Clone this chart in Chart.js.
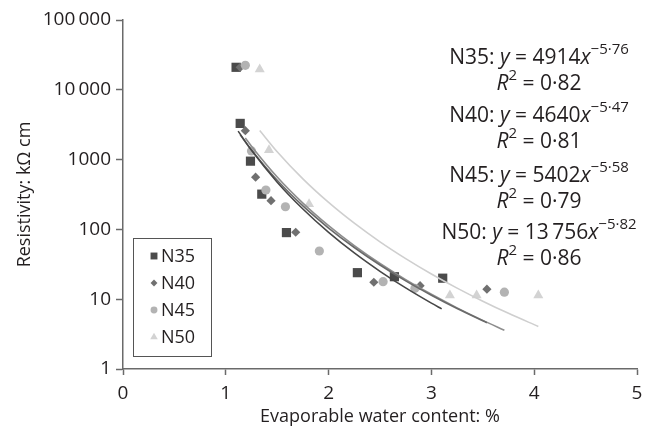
<!DOCTYPE html>
<html>
<head>
<meta charset="utf-8">
<script src="https://cdn.jsdelivr.net/npm/chart.js@4/dist/chart.umd.min.js"></script>
<style>
  body { margin: 0; background: #fff; }
  #wrap { width: 656px; height: 431px; }
</style>
</head>
<body>
<div id="wrap"><canvas id="chart" width="656" height="431"></canvas></div>
<script>
// measured points (evaporable water %, resistivity kOhm cm)
const n35X = [1.10, 1.14, 1.24, 1.35, 1.59, 2.28, 2.64, 3.11];
const n35Y = [21000, 3300, 950, 320, 90, 24, 21, 20];
const n40X = [1.14, 1.19, 1.29, 1.44, 1.68, 2.44, 2.89, 3.54];
const n40Y = [21000, 2600, 560, 258, 91, 17.5, 15.6, 13.9];
const n45X = [1.19, 1.25, 1.39, 1.58, 1.91, 2.53, 2.84, 3.71];
const n45Y = [22400, 1330, 367, 211, 49, 17.8, 14.3, 12.6];
const n50X = [1.33, 1.42, 1.81, 3.18, 3.44, 4.04];
const n50Y = [19700, 1370, 231, 11.4, 11.4, 11.4];

// trend curves
const n35FitX = [1.12, 1.25, 1.5, 1.75, 2, 2.25, 2.5, 2.75, 3, 3.1];
const n35FitY = [2557, 1358, 475, 196, 90.7, 46.0, 25.1, 14.5, 8.77, 7.26];
const n40FitX = [1.14, 1.25, 1.5, 1.75, 2, 2.25, 2.5, 2.75, 3, 3.25, 3.54];
const n40FitY = [2265, 1371, 505, 217, 104.7, 55.0, 30.9, 18.3, 11.4, 7.35, 4.61];
const n45FitX = [1.19, 1.25, 1.5, 1.75, 2, 2.25, 2.5, 2.75, 3, 3.25, 3.5, 3.71];
const n45FitY = [2045, 1555, 562, 238, 113, 58.5, 32.5, 19.1, 11.75, 7.52, 4.97, 3.59];
const n50FitX = [1.33, 1.5, 1.75, 2, 2.25, 2.5, 2.75, 3, 3.25, 3.5, 3.75, 4.04];
const n50FitY = [2614, 1298, 530, 243.6, 122.7, 66.4, 38.2, 23.0, 14.43, 9.37, 6.27, 4.07];

const seriesNames = ['N35', 'N40', 'N45', 'N50'];
const xTicks = [0, 1, 2, 3, 4, 5];
const yTicks = [1, 10, 100, 1000, 10000, 100000];
const yTickLabels = ['1', '10', '100', '1000', '10\u2009000', '100\u2009000'];

// equations shown on the right
const eqCoef = ['4914', '4640', '5402', '13\u2009756'];
const eqExp = ['\u22125\u00b776', '\u22125\u00b747', '\u22125\u00b758', '\u22125\u00b782'];
const eqR2 = ['0\u00b782', '0\u00b781', '0\u00b779', '0\u00b786'];

const FONT = "'Open Sans', 'Noto Sans', sans-serif";
const TXT = '#231f20';
const AXIS = '#6a6a6a';

function pts(xs, ys) { return xs.map((x, i) => ({ x: x, y: ys[i] })); }

const markStyle = [
  { shape: 'rect', color: '#4b4b4b', r: 6.5 },
  { shape: 'rectRot', color: '#707070', r: 4.6 },
  { shape: 'circle', color: '#b3b3b3', r: 4.6 },
  { shape: 'triangle', color: '#d3d3d3', r: 5.8 }
];
const lineColors = ['#474747', '#6a6a6a', '#8e8e8e', '#cfcfcf'];

const scatterData = [pts(n35X, n35Y), pts(n40X, n40Y), pts(n45X, n45Y), pts(n50X, n50Y)];
const fitData = [pts(n35FitX, n35FitY), pts(n40FitX, n40FitY), pts(n45FitX, n45FitY), pts(n50FitX, n50FitY)];

const datasets = [];
fitData.forEach((d, i) => {
  datasets.push({
    label: seriesNames[i] + ' fit', data: d, showLine: true, fill: false,
    borderColor: lineColors[i], borderWidth: 1.6, pointRadius: 0,
    cubicInterpolationMode: 'monotone', order: 2 + i
  });
});
scatterData.forEach((d, i) => {
  const m = markStyle[i];
  datasets.push({
    label: seriesNames[i], data: d, showLine: false,
    pointStyle: m.shape, pointRadius: m.r, borderWidth: 0,
    backgroundColor: m.color, borderColor: m.color, order: 10 - i, isMark: true
  });
});

// draws a line made of plain / italic / superscript pieces, centred on cx
function richLine(ctx, parts, cx, cy) {
  const fontOf = p => (p[1] === 'i' ? 'italic ' : '') + (p[1] === 's' ? '15px ' : '21px ') + FONT;
  let w = 0;
  parts.forEach(p => { ctx.font = fontOf(p); w += ctx.measureText(p[0]).width; });
  let x = cx - w / 2;
  ctx.textBaseline = 'middle';
  ctx.textAlign = 'left';
  parts.forEach(p => {
    ctx.font = fontOf(p);
    ctx.fillText(p[0], x, p[1] === 's' ? cy - 8 : cy);
    x += ctx.measureText(p[0]).width;
  });
}

const extras = {
  id: 'extras',
  afterDatasetsDraw(chart) {
    const ctx = chart.ctx;
    ctx.save();
    // legend box
    ctx.strokeStyle = '#555';
    ctx.lineWidth = 1;
    ctx.strokeRect(133.5, 238.5, 78, 118);
    const marks = chart.data.datasets.filter(d => d.isMark);
    marks.forEach((d, i) => {
      const y = 256 + i * 27;
      ctx.fillStyle = d.backgroundColor;
      Chart.helpers.drawPoint(ctx, { pointStyle: d.pointStyle, radius: d.pointRadius * 0.75, borderWidth: 0 }, 154, y);
      ctx.fillStyle = TXT;
      ctx.font = '18px ' + FONT;
      ctx.textAlign = 'left';
      ctx.textBaseline = 'middle';
      ctx.fillText(d.label, 161, y + 1);
    });
    // equations
    ctx.fillStyle = TXT;
    const rowY = [[58, 84], [116, 142], [176, 202], [233, 259]];
    seriesNames.forEach((n, i) => {
      richLine(ctx, [[n + ': ', 'n'], ['y', 'i'], [' = ' + eqCoef[i], 'n'], ['x', 'i'], [eqExp[i], 's']], 539, rowY[i][0]);
      richLine(ctx, [['R', 'i'], ['2', 's'], [' = ' + eqR2[i], 'n']], 539, rowY[i][1]);
    });
    ctx.restore();
  }
};

new Chart(document.getElementById('chart'), {
  type: 'scatter',
  data: { datasets: datasets },
  plugins: [extras],
  options: {
    responsive: false,
    devicePixelRatio: 1,
    animation: false,
    layout: { padding: { top: 20, right: 19, left: 0, bottom: 0 } },
    plugins: { legend: { display: false }, tooltip: { enabled: false } },
    scales: {
      x: {
        type: 'linear', min: 0, max: 5,
        afterFit: s => { s.height = 62; },
        afterBuildTicks: s => { s.ticks = xTicks.map(v => ({ value: v })); },
        border: { color: AXIS, width: 1.5 },
        grid: { drawOnChartArea: false, tickLength: 6, color: AXIS, tickWidth: 1.5 },
        ticks: { color: TXT, padding: 7, font: { family: FONT, size: 19 } },
        title: { display: true, text: 'Evaporable water content: %', color: TXT,
                 font: { family: FONT, size: 18 }, padding: { top: 0, bottom: 3 } }
      },
      y: {
        type: 'logarithmic', min: 1, max: 100000,
        afterFit: s => { s.width = 123; },
        afterBuildTicks: s => { s.ticks = yTicks.map(v => ({ value: v })); },
        border: { color: AXIS, width: 1.5 },
        grid: { drawOnChartArea: false, tickLength: 7, color: AXIS, tickWidth: 1.5 },
        ticks: { color: TXT, padding: 5, font: { family: FONT, size: 19 },
                 callback: v => { const k = yTicks.indexOf(v); return k < 0 ? '' : yTickLabels[k]; } },
        title: { display: true, text: 'Resistivity: k\u03a9 cm', color: TXT,
                 font: { family: FONT, size: 18 }, padding: { top: 14, bottom: 0 } }
      }
    }
  }
});
</script>
</body>
</html>
